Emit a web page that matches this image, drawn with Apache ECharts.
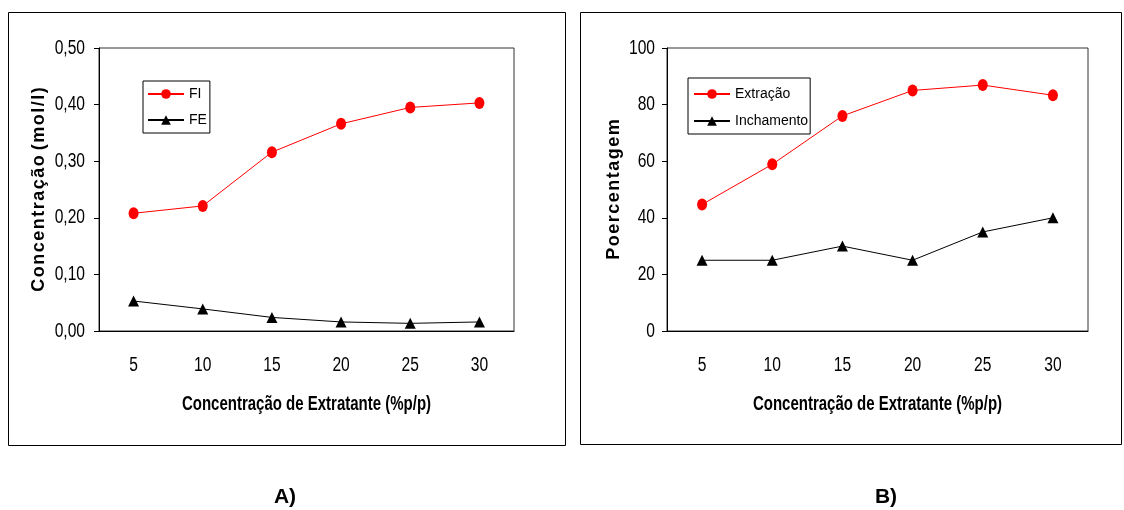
<!DOCTYPE html>
<html>
<head>
<meta charset="utf-8">
<style>
  html, body { margin: 0; padding: 0; background: #fff; }
  #chart { width: 1124px; height: 510px; }
</style>
<script src="https://cdn.jsdelivr.net/npm/echarts@6/dist/echarts.min.js"></script>
</head>
<body>
<div id="chart"></div>
<script>
// Extractant concentration (% w/w)
const categories = ['5', '10', '15', '20', '25', '30'];

// Panel A: concentration (mol/l)
const fiValues = [0.208, 0.221, 0.316, 0.366, 0.395, 0.403];
const feValues = [0.053, 0.039, 0.024, 0.016, 0.0135, 0.016];
const concTicks = [0, 0.1, 0.2, 0.3, 0.4, 0.5];

// Panel B: percentage
const extracaoValues = [44.7, 58.9, 76, 85, 86.9, 83.3];
const inchamentoValues = [25, 25, 30, 25, 35, 40];
const pctTicks = [0, 20, 40, 60, 80, 100];

const xTitle = 'Concentração de Extratante (%p/p)';

const sans = "'Liberation Sans', Arial, sans-serif";
const HAIR = '\u200A';
const spaced = s => s.split('').join(HAIR);

const chart = echarts.init(document.getElementById('chart'));

// Category axis set for one grid: main axis (ticks between categories)
// plus two overlays that draw a tick crossing the axis at each category.
function xAxesFor(gridIndex) {
  return [
    {
      type: 'category', gridIndex, data: categories, position: 'bottom',
      boundaryGap: true,
      axisLine: { lineStyle: { color: '#000', width: 1 } },
      axisTick: { alignWithLabel: false, length: 6, lineStyle: { color: '#000' } },
      axisLabel: { show: false },
      splitLine: { show: false }
    },
    {
      type: 'category', gridIndex, data: categories, position: 'bottom',
      axisLine: { show: false },
      axisTick: { alignWithLabel: true, inside: true, length: 4, lineStyle: { color: '#000' } },
      axisLabel: { show: false }, splitLine: { show: false }
    },
    {
      type: 'category', gridIndex, data: categories, position: 'bottom',
      axisLine: { show: false },
      axisTick: { alignWithLabel: true, inside: false, length: 5, lineStyle: { color: '#000' } },
      axisLabel: { show: false }, splitLine: { show: false }
    }
  ];
}

const legendText = { color: '#000', fontFamily: sans, fontSize: 14, lineHeight: 12 };

// Condensed text (narrow face emulated by horizontal scaling)
function narrowText(x, y, text, opts) {
  return {
    type: 'text', x, y, scaleX: opts.scaleX || 0.78, silent: true,
    style: {
      text, fill: '#000',
      font: (opts.bold ? 'bold ' : '') + opts.size + "px 'Liberation Sans', Arial, sans-serif",
      textAlign: opts.align || 'center', textVerticalAlign: 'middle'
    }
  };
}

chart.setOption({
  animation: false,
  backgroundColor: '#fff',
  grid: [
    { left: 99, top: 48, width: 415, height: 283, show: true, borderColor: '#333', borderWidth: 1, backgroundColor: 'transparent' },
    { left: 667, top: 48, width: 421, height: 283, show: true, borderColor: '#333', borderWidth: 1, backgroundColor: 'transparent' }
  ],
  xAxis: [...xAxesFor(0), ...xAxesFor(1)],
  yAxis: [
    {
      type: 'value', gridIndex: 0, min: 0, max: 0.5, interval: 0.1,
      axisLine: { show: true, lineStyle: { color: '#000', width: 1 } },
      axisTick: { show: true, length: 5, lineStyle: { color: '#000' } },
      axisLabel: { show: false },
      splitLine: { show: false },
      name: spaced('Concentração') + ' ' + spaced('(mol/l)'),
      nameLocation: 'middle', nameRotate: 90, nameGap: 51,
      nameTextStyle: { color: '#000', fontFamily: sans, fontSize: 18, fontWeight: 'bold' }
    },
    {
      type: 'value', gridIndex: 1, min: 0, max: 100, interval: 20,
      axisLine: { show: true, lineStyle: { color: '#000', width: 1 } },
      axisTick: { show: true, length: 5, lineStyle: { color: '#000' } },
      axisLabel: { show: false },
      splitLine: { show: false },
      name: spaced('Poercentagem'),
      nameLocation: 'middle', nameRotate: 90, nameGap: 44,
      nameTextStyle: { color: '#000', fontFamily: sans, fontSize: 18, fontWeight: 'bold' }
    }
  ],
  legend: [
    {
      data: ['FI', 'FE'], orient: 'vertical', left: 143, top: 81,
      borderColor: '#000', borderWidth: 1, padding: [6, 3, 6, 4],
      itemWidth: 36, itemHeight: 12, itemGap: 12,
      textStyle: legendText
    },
    {
      data: ['Extração', 'Inchamento'], orient: 'vertical', left: 688, top: 78,
      borderColor: '#000', borderWidth: 1, padding: [9, 2, 6, 5],
      itemWidth: 36, itemHeight: 12, itemGap: 13,
      textStyle: legendText
    }
  ],
  series: [
    {
      name: 'FI', type: 'line', xAxisIndex: 0, yAxisIndex: 0, data: fiValues,
      symbol: 'circle', symbolSize: [10, 12],
      lineStyle: { color: '#ff0000', width: 1 }, itemStyle: { color: '#ff0000' }
    },
    {
      name: 'FE', type: 'line', xAxisIndex: 0, yAxisIndex: 0, data: feValues,
      symbol: 'triangle', symbolSize: [11, 11],
      lineStyle: { color: '#000', width: 1 }, itemStyle: { color: '#000' }
    },
    {
      name: 'Extração', type: 'line', xAxisIndex: 3, yAxisIndex: 1, data: extracaoValues,
      symbol: 'circle', symbolSize: [10, 12],
      lineStyle: { color: '#ff0000', width: 1 }, itemStyle: { color: '#ff0000' }
    },
    {
      name: 'Inchamento', type: 'line', xAxisIndex: 3, yAxisIndex: 1, data: inchamentoValues,
      symbol: 'triangle', symbolSize: [11, 11],
      lineStyle: { color: '#000', width: 1 }, itemStyle: { color: '#000' }
    }
  ]
});

// Tick labels and titles, placed through the axes' own scales
const graphics = [
  { type: 'rect', shape: { x: 8.5, y: 12.5, width: 557, height: 433 }, style: { fill: 'none', stroke: '#000', lineWidth: 1 }, silent: true, z: -1 },
  { type: 'rect', shape: { x: 580.5, y: 12.5, width: 541, height: 432 }, style: { fill: 'none', stroke: '#000', lineWidth: 1 }, silent: true, z: -1 }
];

const panels = [
  { xAxisIndex: 0, yAxisIndex: 0, ticks: concTicks, fmt: v => v.toFixed(2).replace('.', ','), labelRight: 85 },
  { xAxisIndex: 3, yAxisIndex: 1, ticks: pctTicks, fmt: v => String(v), labelRight: 655 }
];

panels.forEach(p => {
  const baseY = chart.convertToPixel({ yAxisIndex: p.yAxisIndex }, 0);
  categories.forEach((c, i) => {
    const px = chart.convertToPixel({ xAxisIndex: p.xAxisIndex }, i);
    graphics.push(narrowText(px, baseY + 34, c, { size: 20 }));
  });
  p.ticks.forEach(v => {
    const py = chart.convertToPixel({ yAxisIndex: p.yAxisIndex }, v);
    graphics.push(narrowText(p.labelRight, py, p.fmt(v), { size: 20, align: 'right' }));
  });
  const left = chart.convertToPixel({ xAxisIndex: p.xAxisIndex }, 0);
  const right = chart.convertToPixel({ xAxisIndex: p.xAxisIndex }, categories.length - 1);
  graphics.push(narrowText((left + right) / 2, baseY + 73, xTitle, { size: 20, bold: true, scaleX: 0.75 }));
});

graphics.push(
  { type: 'text', x: 285, y: 497, style: { text: 'A)', fill: '#000', font: "bold 21px 'Liberation Sans', Arial, sans-serif", textAlign: 'center', textVerticalAlign: 'middle' } },
  { type: 'text', x: 886, y: 497, style: { text: 'B)', fill: '#000', font: "bold 21px 'Liberation Sans', Arial, sans-serif", textAlign: 'center', textVerticalAlign: 'middle' } }
);

chart.setOption({ graphic: graphics });
</script>
</body>
</html>
